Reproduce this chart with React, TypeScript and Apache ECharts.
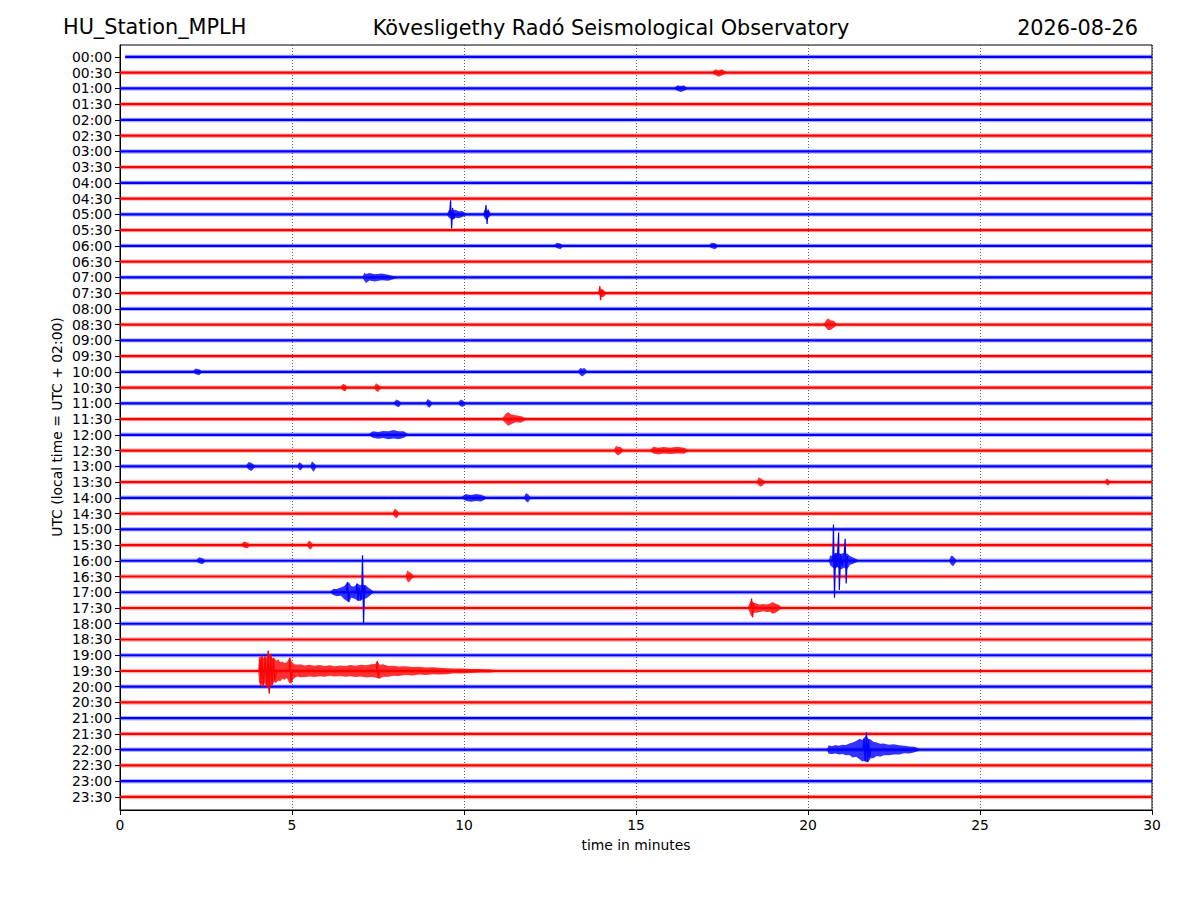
import React, { useEffect, useRef } from "react";
import * as echarts from "echarts";

// ---------- data ----------
const TRACE_LABELS = [
  "00:00", "00:30", "01:00", "01:30", "02:00", "02:30", "03:00", "03:30",
  "04:00", "04:30", "05:00", "05:30", "06:00", "06:30", "07:00", "07:30",
  "08:00", "08:30", "09:00", "09:30", "10:00", "10:30", "11:00", "11:30",
  "12:00", "12:30", "13:00", "13:30", "14:00", "14:30", "15:00", "15:30",
  "16:00", "16:30", "17:00", "17:30", "18:00", "18:30", "19:00", "19:30",
  "20:00", "20:30", "21:00", "21:30", "22:00", "22:30", "23:00", "23:30",
];
const TRACE_COLORS = ["#0000ff", "#ff0000"];
const X_TICKS = [0, 5, 10, 15, 20, 25, 30];
const FIRST_TRACE_START = 0.15; // the 00:00 trace begins a little after 0
const TRACE_END = 30;

// Envelopes of signal bursts: [[time (min), amplitude up, amplitude down], ...]
// amplitudes are in trace spacings
const ENV_0030 = [[17.2, 0, 0], [17.3, 0.22, 0.15], [17.4, 0.15, 0.25], [17.5, 0.22, 0.18], [17.65, 0, 0]];
const ENV_0100 = [[16.1, 0, 0], [16.2, 0.2, 0.14], [16.3, 0.15, 0.22], [16.4, 0.2, 0.15], [16.5, 0, 0]];
const ENV_0500A = [[9.5, 0, 0], [9.56, 0.28, 0.22], [9.66, 0.25, 0.32], [9.75, 0.3, 0.22], [9.85, 0.2, 0.25], [9.95, 0.22, 0.16], [10.1, 0, 0]];
const ENV_0500B = [[10.55, 0, 0], [10.6, 0.3, 0.25], [10.66, 0.25, 0.35], [10.72, 0.25, 0.2], [10.8, 0, 0]];
const ENV_0600A = [[12.6, 0, 0], [12.7, 0.2, 0.14], [12.8, 0.15, 0.22], [12.9, 0, 0]];
const ENV_0600B = [[17.1, 0, 0], [17.2, 0.2, 0.15], [17.3, 0.16, 0.22], [17.4, 0, 0]];
const ENV_0700 = [[7.05, 0, 0], [7.1, 0.3, 0.2], [7.15, 0.22, 0.35], [7.25, 0.28, 0.2], [7.4, 0.2, 0.26], [7.6, 0.24, 0.18], [7.8, 0.17, 0.22], [8.1, 0, 0]];
const ENV_0730 = [[13.9, 0, 0], [13.98, 0.3, 0.25], [14.06, 0.2, 0.25], [14.15, 0, 0]];
const ENV_0830 = [[20.45, 0, 0], [20.52, 0.25, 0.2], [20.58, 0.4, 0.35], [20.65, 0.28, 0.35], [20.75, 0.25, 0.2], [20.85, 0, 0]];
const ENV_1000A = [[2.1, 0, 0], [2.2, 0.22, 0.15], [2.3, 0.16, 0.22], [2.4, 0, 0]];
const ENV_1000B = [[13.3, 0, 0], [13.38, 0.25, 0.2], [13.44, 0.2, 0.3], [13.5, 0.25, 0.18], [13.6, 0, 0]];
const ENV_1030A = [[6.4, 0, 0], [6.48, 0.25, 0.18], [6.55, 0.18, 0.25], [6.62, 0, 0]];
const ENV_1030B = [[7.38, 0, 0], [7.44, 0.28, 0.2], [7.5, 0.2, 0.28], [7.6, 0, 0]];
const ENV_1100A = [[7.95, 0, 0], [8.03, 0.24, 0.18], [8.1, 0.18, 0.25], [8.2, 0, 0]];
const ENV_1100B = [[8.88, 0, 0], [8.94, 0.28, 0.2], [9.0, 0.2, 0.28], [9.1, 0, 0]];
const ENV_1100C = [[9.82, 0, 0], [9.9, 0.24, 0.18], [9.97, 0.18, 0.24], [10.05, 0, 0]];
const ENV_1130 = [[11.1, 0, 0], [11.2, 0.3, 0.25], [11.28, 0.45, 0.42], [11.36, 0.3, 0.35], [11.5, 0.25, 0.2], [11.65, 0.2, 0.24], [11.85, 0, 0]];
const ENV_1200 = [[7.2, 0, 0], [7.35, 0.22, 0.18], [7.5, 0.18, 0.25], [7.65, 0.25, 0.2], [7.8, 0.22, 0.28], [7.95, 0.3, 0.24], [8.1, 0.22, 0.28], [8.25, 0.22, 0.18], [8.4, 0, 0]];
const ENV_1230A = [[14.35, 0, 0], [14.42, 0.3, 0.22], [14.48, 0.22, 0.32], [14.55, 0.25, 0.2], [14.65, 0, 0]];
const ENV_1230B = [[15.4, 0, 0], [15.5, 0.24, 0.18], [15.65, 0.18, 0.25], [15.8, 0.22, 0.18], [16.0, 0.18, 0.22], [16.2, 0.24, 0.18], [16.4, 0.18, 0.2], [16.55, 0, 0]];
const ENV_1300A = [[3.65, 0, 0], [3.74, 0.28, 0.2], [3.82, 0.22, 0.3], [3.95, 0, 0]];
const ENV_1300B = [[5.15, 0, 0], [5.21, 0.26, 0.2], [5.26, 0.2, 0.26], [5.33, 0, 0]];
const ENV_1300C = [[5.52, 0, 0], [5.58, 0.3, 0.22], [5.63, 0.22, 0.34], [5.72, 0, 0]];
const ENV_1330A = [[18.5, 0, 0], [18.57, 0.3, 0.22], [18.63, 0.22, 0.3], [18.8, 0, 0]];
const ENV_1330B = [[28.62, 0, 0], [28.68, 0.22, 0.16], [28.73, 0.16, 0.22], [28.8, 0, 0]];
const ENV_1400A = [[9.9, 0, 0], [10.05, 0.24, 0.18], [10.2, 0.18, 0.25], [10.35, 0.24, 0.2], [10.5, 0.2, 0.24], [10.7, 0, 0]];
const ENV_1400B = [[11.74, 0, 0], [11.8, 0.3, 0.22], [11.86, 0.22, 0.3], [11.95, 0, 0]];
const ENV_1430 = [[7.92, 0, 0], [7.98, 0.3, 0.22], [8.05, 0.22, 0.3], [8.12, 0, 0]];
const ENV_1530A = [[3.5, 0, 0], [3.6, 0.22, 0.16], [3.7, 0.16, 0.22], [3.8, 0, 0]];
const ENV_1530B = [[5.42, 0, 0], [5.49, 0.28, 0.2], [5.55, 0.2, 0.28], [5.62, 0, 0]];
const ENV_1600A = [[2.2, 0, 0], [2.3, 0.22, 0.16], [2.4, 0.16, 0.22], [2.5, 0, 0]];
const ENV_1600B = [[20.6, 0, 0], [20.65, 0.35, 0.3], [20.7, 0.3, 0.4], [20.78, 0.45, 0.5], [20.85, 0.5, 0.4], [20.95, 0.45, 0.55], [21.05, 0.5, 0.45], [21.15, 0.45, 0.5], [21.22, 0.3, 0.25], [21.3, 0.22, 0.2], [21.5, 0, 0]];
const ENV_1600C = [[24.1, 0, 0], [24.16, 0.32, 0.25], [24.22, 0.28, 0.35], [24.33, 0, 0]];
const ENV_1630 = [[8.3, 0, 0], [8.35, 0.38, 0.3], [8.4, 0.3, 0.38], [8.47, 0.22, 0.18], [8.55, 0, 0]];
const ENV_1700 = [[6.1, 0, 0], [6.2, 0.22, 0.18], [6.3, 0.2, 0.26], [6.42, 0.3, 0.22], [6.52, 0.4, 0.45], [6.6, 0.6, 0.55], [6.66, 0.62, 0.65], [6.72, 0.4, 0.35], [6.8, 0.35, 0.4], [6.9, 0.55, 0.5], [6.98, 0.45, 0.55], [7.05, 0.5, 0.45], [7.15, 0.45, 0.4], [7.22, 0.28, 0.3], [7.3, 0.18, 0.15], [7.4, 0, 0]];
const ENV_1730 = [[18.25, 0, 0], [18.3, 0.3, 0.25], [18.35, 0.5, 0.55], [18.42, 0.35, 0.3], [18.5, 0.28, 0.3], [18.6, 0.22, 0.26], [18.7, 0.26, 0.2], [18.8, 0.22, 0.26], [18.9, 0.28, 0.24], [18.97, 0.38, 0.36], [19.05, 0.28, 0.32], [19.15, 0.2, 0.16], [19.25, 0, 0]];
const ENV_1930 = [
  [4.02, 0, 0], [4.04, 0.9, 0.7], [4.08, 0.7, 0.95], [4.12, 1.0, 0.8], [4.16, 0.8, 1.0], [4.2, 0.95, 0.75],
  [4.25, 0.8, 0.95], [4.3, 1.3, 1.1], [4.34, 1.0, 1.45], [4.38, 1.1, 0.9], [4.43, 0.8, 0.9], [4.48, 0.85, 0.7],
  [4.54, 0.65, 0.75], [4.6, 0.75, 0.6], [4.66, 0.55, 0.65], [4.72, 0.6, 0.5], [4.78, 0.5, 0.55],
  [4.85, 0.55, 0.45], [4.93, 0.85, 0.8], [4.99, 0.6, 0.7], [5.05, 0.45, 0.5], [5.15, 0.4, 0.35],
  [5.25, 0.42, 0.4], [5.35, 0.35, 0.4], [5.5, 0.4, 0.35], [5.65, 0.33, 0.38], [5.8, 0.38, 0.33],
  [5.95, 0.32, 0.36], [6.1, 0.36, 0.3], [6.25, 0.3, 0.35], [6.4, 0.35, 0.32], [6.55, 0.32, 0.36],
  [6.7, 0.38, 0.33], [6.85, 0.34, 0.38], [7.0, 0.4, 0.35], [7.15, 0.36, 0.42], [7.3, 0.42, 0.38],
  [7.42, 0.45, 0.42], [7.48, 0.63, 0.45], [7.55, 0.4, 0.5], [7.65, 0.42, 0.36], [7.8, 0.32, 0.36],
  [7.95, 0.34, 0.3], [8.1, 0.28, 0.32], [8.3, 0.3, 0.26], [8.5, 0.25, 0.28], [8.7, 0.27, 0.23],
  [8.9, 0.22, 0.25], [9.1, 0.24, 0.2], [9.3, 0.2, 0.22], [9.5, 0.18, 0.2], [9.7, 0.16, 0.14],
  [9.9, 0.15, 0.16], [10.2, 0.12, 0.13], [10.5, 0.13, 0.1], [10.8, 0.1, 0.1], [11.0, 0, 0],
];
const ENV_2200 = [
  [20.55, 0, 0], [20.6, 0.28, 0.25], [20.7, 0.22, 0.28], [20.8, 0.3, 0.24], [20.9, 0.25, 0.3],
  [21.0, 0.32, 0.27], [21.1, 0.3, 0.35], [21.2, 0.4, 0.33], [21.3, 0.45, 0.5], [21.4, 0.55, 0.45],
  [21.5, 0.7, 0.6], [21.58, 0.62, 0.75], [21.65, 0.8, 0.7], [21.7, 0.9, 0.8], [21.75, 0.7, 0.8],
  [21.82, 0.65, 0.55], [21.9, 0.5, 0.55], [22.0, 0.45, 0.4], [22.1, 0.38, 0.45], [22.2, 0.4, 0.35],
  [22.35, 0.32, 0.36], [22.5, 0.34, 0.3], [22.65, 0.28, 0.3], [22.8, 0.25, 0.22], [22.95, 0.2, 0.24],
  [23.1, 0.18, 0.16], [23.3, 0, 0],
];

const ENVELOPES: [number, number[][]][] = [
  [1, ENV_0030], [2, ENV_0100], [10, ENV_0500A], [10, ENV_0500B], [12, ENV_0600A], [12, ENV_0600B],
  [14, ENV_0700], [15, ENV_0730], [17, ENV_0830], [20, ENV_1000A], [20, ENV_1000B], [21, ENV_1030A],
  [21, ENV_1030B], [22, ENV_1100A], [22, ENV_1100B], [22, ENV_1100C], [23, ENV_1130], [24, ENV_1200],
  [25, ENV_1230A], [25, ENV_1230B], [26, ENV_1300A], [26, ENV_1300B], [26, ENV_1300C], [27, ENV_1330A],
  [27, ENV_1330B], [28, ENV_1400A], [28, ENV_1400B], [29, ENV_1430], [31, ENV_1530A], [31, ENV_1530B],
  [32, ENV_1600A], [32, ENV_1600B], [32, ENV_1600C], [33, ENV_1630], [34, ENV_1700], [35, ENV_1730],
  [39, ENV_1930], [44, ENV_2200],
];

// Large single swings drawn as wiggles: [time (min), amplitude (up = +)]
const SPK_0500A = [[9.58, 0], [9.61, 0.9], [9.64, -0.9], [9.67, 0.4], [9.7, -0.3], [9.73, 0]];
const SPK_0500B = [[10.61, 0], [10.64, 0.6], [10.67, -0.6], [10.7, 0.3], [10.73, 0]];
const SPK_0730 = [[13.92, 0], [13.95, 0.45], [13.97, -0.45], [14.0, 0.2], [14.03, 0]];
const SPK_1600 = [[20.72, 0], [20.74, 2.3], [20.77, -2.35], [20.8, 0.5], [20.84, -0.4], [20.89, 1.8], [20.91, -1.85], [20.95, 0.4], [21.0, -0.35], [21.05, 0.4], [21.08, 1.4], [21.11, -1.45], [21.14, 0.3], [21.17, 0]];
const SPK_1700 = [[6.58, 0], [6.61, 0.65], [6.64, -0.6], [6.67, 0], [6.86, 0], [6.89, 0.55], [6.92, -0.55], [6.95, 0.3], [7.0, -0.5], [7.03, 0.2], [7.05, 2.35], [7.08, -2.0], [7.11, 0.4], [7.14, 0]];
const SPK_1730 = [[18.33, 0], [18.36, 0.6], [18.39, -0.6], [18.42, 0.3], [18.45, 0]];
const SPK_1930 = [[4.05, 0], [4.07, 0.9], [4.1, -0.9], [4.13, 1.0], [4.17, -1.0], [4.22, 0.9], [4.27, -1.0], [4.31, 1.3], [4.34, -1.45], [4.38, 1.1], [4.42, -0.9], [4.46, 0.8], [4.5, -0.6], [4.55, 0], [4.92, 0], [4.94, 0.85], [4.97, -0.8], [5.0, 0], [7.45, 0], [7.48, 0.63], [7.51, -0.45], [7.54, 0]];
const SPK_2200 = [[21.6, 0], [21.63, 0.7], [21.66, -0.75], [21.7, 1.1], [21.73, -0.75], [21.76, 0.6], [21.79, -0.5], [21.82, 0]];

const SPIKES: [number, number[][]][] = [
  [10, SPK_0500A], [10, SPK_0500B], [15, SPK_0730], [32, SPK_1600],
  [34, SPK_1700], [35, SPK_1730], [39, SPK_1930], [44, SPK_2200],
];

const FONT = "DejaVu Sans";

function buildOption(): any {
  const haloSeries: any[] = TRACE_LABELS.map((label, i) => ({
    type: "line",
    data: [[i === 0 ? FIRST_TRACE_START : 0, i], [TRACE_END, i]],
    showSymbol: false,
    symbol: "none",
    silent: true,
    lineStyle: { color: TRACE_COLORS[i % 2], width: 4.4, opacity: 0.3 },
    z: 2,
  }));
  const baseSeries: any[] = TRACE_LABELS.map((label, i) => ({
    name: label,
    type: "line",
    data: [[i === 0 ? FIRST_TRACE_START : 0, i], [TRACE_END, i]],
    showSymbol: false,
    symbol: "none",
    silent: true,
    lineStyle: { color: TRACE_COLORS[i % 2], width: 2.2 },
    z: 2,
  }));

  const envSeries = {
    type: "custom",
    silent: true,
    z: 3,
    data: ENVELOPES.map(([tr, env]) => [env[0][0], tr, env[env.length - 1][0]]),
    encode: { x: [0, 2], y: 1 },
    renderItem: (params: any, api: any) => {
      const [tr, env] = ENVELOPES[params.dataIndex];
      const pts: number[][] = [];
      env.forEach(([t, up]) => pts.push(api.coord([t, tr - up])));
      for (let k = env.length - 1; k >= 0; k--) {
        const [t, , down] = env[k];
        pts.push(api.coord([t, tr + down]));
      }
      return {
        type: "polygon",
        shape: { points: pts },
        style: { fill: TRACE_COLORS[tr % 2], opacity: 0.8 },
      };
    },
  };

  const spikeSeries: any[] = SPIKES.map(([tr, spk]) => ({
    type: "line",
    data: spk.map(([t, a]) => [t, tr - a]),
    showSymbol: false,
    symbol: "none",
    silent: true,
    lineStyle: { color: TRACE_COLORS[tr % 2], width: 1.2 },
    z: 4,
  }));

  const idx = TRACE_LABELS.map((_, i) => i);
  return {
    animation: false,
    backgroundColor: "#ffffff",
    textStyle: { fontFamily: FONT },
    grid: {
      left: 120, right: 48, top: 45, bottom: 90,
      show: true, borderColor: "#000", borderWidth: 1, backgroundColor: "transparent",
    },
    xAxis: {
      type: "value",
      min: X_TICKS[0],
      max: X_TICKS[X_TICKS.length - 1],
      interval: 5,
      axisLine: { show: true, onZero: false, lineStyle: { color: "#000", width: 1 } },
      axisTick: { show: true, length: 5, lineStyle: { color: "#000" } },
      axisLabel: { color: "#000", fontSize: 13.9, fontFamily: FONT, margin: 8 },
      splitLine: { show: true, lineStyle: { color: "#333", width: 0.8, type: [1, 2] } },
    },
    yAxis: {
      type: "value",
      inverse: true,
      min: -0.76,
      max: 47.83,
      axisLine: { show: true, lineStyle: { color: "#000", width: 1 } },
      axisTick: { show: true, length: 5, customValues: idx, lineStyle: { color: "#000" } },
      axisLabel: {
        show: true, customValues: idx, color: "#000", fontSize: 13.9, fontFamily: FONT, margin: 8,
        formatter: (v: number) => TRACE_LABELS[Math.round(v)] ?? "",
      },
      splitLine: { show: false },
    },
    graphic: [
      { type: "text", left: 63, top: 16, style: { text: "HU_Station_MPLH", fontSize: 20.8, fontFamily: FONT, fill: "#000" } },
      { type: "text", x: 611, y: 28, style: { text: "Kövesligethy Radó Seismological Observatory", fontSize: 20.8, fontFamily: FONT, fill: "#000", align: "center", verticalAlign: "middle" } },
      { type: "text", x: 1138, y: 28, style: { text: "2026-08-26", fontSize: 20.8, fontFamily: FONT, fill: "#000", align: "right", verticalAlign: "middle" } },
      { type: "text", x: 636, y: 845, style: { text: "time in minutes", fontSize: 13.9, fontFamily: FONT, fill: "#000", align: "center", verticalAlign: "middle" } },
      { type: "text", x: 57, y: 427, rotation: Math.PI / 2, style: { text: "UTC (local time = UTC + 02:00)", fontSize: 13.9, fontFamily: FONT, fill: "#000", align: "center", verticalAlign: "middle" } },
    ],
    series: [...haloSeries, ...baseSeries, envSeries, ...spikeSeries],
  };
}

export default function App() {
  const ref = useRef<HTMLDivElement>(null);
  useEffect(() => {
    if (!ref.current) return;
    const chart = echarts.init(ref.current, undefined, { renderer: "svg" });
    chart.setOption(buildOption());
    return () => chart.dispose();
  }, []);
  return (
    <div
      ref={ref}
      style={{ position: "absolute", left: 0, top: 0, width: 1200, height: 900, background: "#fff" }}
    />
  );
}
